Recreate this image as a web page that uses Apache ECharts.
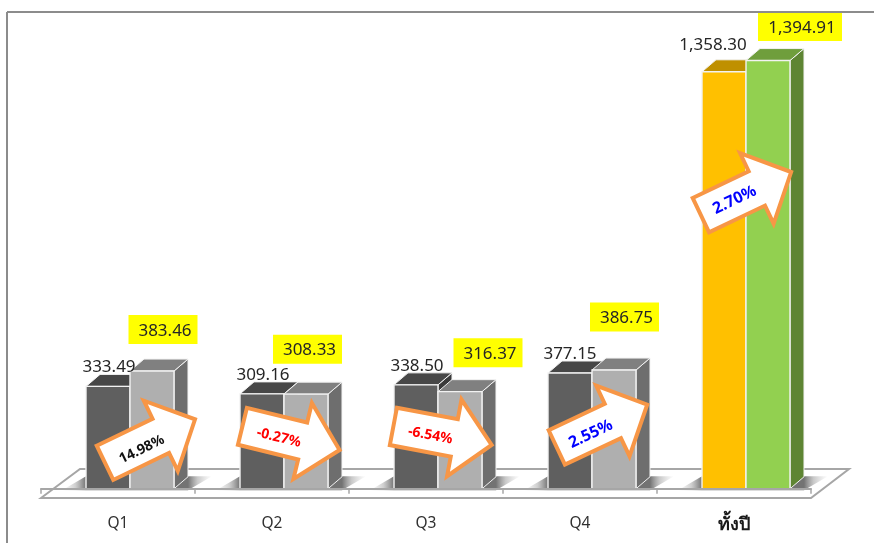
<!DOCTYPE html>
<html>
<head>
<meta charset="utf-8">
<style>html,body{margin:0;padding:0;background:#fff}#c{width:874px;height:543px}</style>
<script src="https://cdn.jsdelivr.net/npm/echarts@6/dist/echarts.min.js"></script>
</head>
<body>
<div id="c"></div>
<script>
var categories = ['Q1', 'Q2', 'Q3', 'Q4', 'ทั้งปี'];
var prevYear = [333.49, 309.16, 338.50, 377.15, 1358.30];
var currYear = [383.46, 308.33, 316.37, 386.75, 1394.91];
var changeLabels = ['14.98%', '-0.27%', '-6.54%', '2.55%', '2.70%'];

var FONT = '"Noto Sans", "Open Sans", sans-serif';
var DEPTH_X = 14, DEPTH_Y = -12;
var GREY_A = { front: '#5f5f5f', top: '#474747', side: '#3a3a3a' };
var GREY_B = { front: '#afafaf', top: '#808080', side: '#6e6e6e' };
var GOLD = { front: '#ffc000', top: '#bf9000', side: '#8f6c00' };
var GREEN = { front: '#92d050', top: '#6f9e3c', side: '#5e8533' };
var EDGE = '#f2f2f2';

function fmt(v) {
  return v.toLocaleString('en-US', { minimumFractionDigits: 2, maximumFractionDigits: 2 });
}

function barRender(slot, paletteFor) {
  return function (params, api) {
    var i = api.value(0), v = api.value(1);
    var w = api.size([1, 0])[0] * 0.2857;
    var c = api.coord([i, 0]);
    var top = api.coord([i, v])[1];
    var x0 = c[0] - 32 + slot * w, x1 = x0 + w, yb = c[1];
    var p = paletteFor(i);
    return {
      type: 'group',
      children: [
        { type: 'polygon', shape: { points: [[x1, yb], [x1 + DEPTH_X, yb + DEPTH_Y], [x1 + DEPTH_X, top + DEPTH_Y], [x1, top]] },
          style: { fill: p.side, stroke: EDGE, lineWidth: 1 } },
        { type: 'polygon', shape: { points: [[x0, top], [x0 + DEPTH_X, top + DEPTH_Y], [x1 + DEPTH_X, top + DEPTH_Y], [x1, top]] },
          style: { fill: p.top, stroke: EDGE, lineWidth: 1 } },
        { type: 'rect', shape: { x: x0, y: top, width: w, height: yb - top },
          style: { fill: p.front, stroke: EDGE, lineWidth: 1.4 } }
      ]
    };
  };
}

function shadowRender(params, api) {
  var i = api.value(0);
  var c = api.coord([i, 0]);
  var L = c[0] - 32, R = c[0] + 56 + DEPTH_X;
  var yb = c[1] + 1.5, yt = yb - 14;
  var l = L - 24, r = R + 24;
  var span = r - l;
  var a = (L - l) / span, b = (R - l) / span;
  return {
    type: 'polygon',
    shape: { points: [[l, yb], [l + 24, yt], [r, yt], [r - 24, yb]] },
    style: {
      fill: new echarts.graphic.LinearGradient(l, 0, r, 0, [
        { offset: 0, color: 'rgba(140,140,140,0)' },
        { offset: a * 0.55, color: 'rgba(120,120,120,0.35)' },
        { offset: a, color: 'rgba(80,80,80,0.8)' },
        { offset: b, color: 'rgba(80,80,80,0.8)' },
        { offset: b + (1 - b) * 0.4, color: 'rgba(120,120,120,0.4)' },
        { offset: 1, color: 'rgba(150,150,150,0)' }
      ], true)
    }
  };
}

function floorRender(params, api) {
  var g = params.coordSys;
  var x0 = g.x, x1 = g.x + g.width, y = g.y + g.height;
  return {
    type: 'polygon',
    shape: { points: [[x0, y], [x0 + 39, y - 29], [x1 + 38, y - 29], [x1, y]] },
    style: { fill: '#ffffff', stroke: '#a6a6a6', lineWidth: 2 }
  };
}

// arrow styling: centre offset from the category centre / current bar top, screen angle in degrees, font
var arrowStyle = [
  { dx: 32, dy: 70, deg: -25.8, color: '#111111', size: 14, tx: -11, ty: 4 },
  { dx: 19, dy: 44, deg: 13.7, color: '#ff0000', size: 14, tx: -12, ty: 2.5 },
  { dx: 16.5, dy: 44, deg: 10.7, color: '#ff0000', size: 14, tx: -12, ty: 2 },
  { dx: 22, dy: 56, deg: -25.3, color: '#0000ff', size: 16, tx: -13.5, ty: 2.5 },
  { dx: 12, dy: 133, deg: -25.5, color: '#0000ff', size: 16, tx: -13, ty: 1 }
];
var ARROW = [[-50, -19], [12, -19], [12, -39], [50, 0], [12, 39], [12, 19], [-50, 19]];

function arrowRender(params, api) {
  var i = api.value(0), v = api.value(1);
  var s = arrowStyle[i];
  var c = api.coord([i, v]);
  var cx = c[0] + s.dx, cy = c[1] + s.dy, a = s.deg * Math.PI / 180;
  var cos = Math.cos(a), sin = Math.sin(a);
  var pts = ARROW.map(function (p) {
    return [cx + p[0] * cos - p[1] * sin, cy + p[0] * sin + p[1] * cos];
  });
  return {
    type: 'group',
    children: [
      { type: 'polygon', shape: { points: pts },
        style: { fill: '#ffffff', stroke: '#f79646', lineWidth: 4, lineJoin: 'miter' } },
      { type: 'text', x: cx + s.tx * cos - s.ty * sin, y: cy + s.tx * sin + s.ty * cos, rotation: -a,
        style: { text: changeLabels[i], fill: s.color, align: 'center', verticalAlign: 'middle',
                 font: 'bold ' + s.size + 'px ' + FONT } }
    ]
  };
}

var prevOffset = [[1, -19], [1, -19], [1, -19], [0, -19], [-11, -27]];
var currOffset = [[11, -41.5], [1.5, -45], [28, -39], [10.5, -53], [32, -34]];

function labelRender(params, api) {
  var i = api.value(0), a = api.value(1), b = api.value(2);
  var w = api.size([1, 0])[0] * 0.2857;
  var base = api.coord([i, 0])[0];
  var ya = api.coord([i, a])[1], yb = api.coord([i, b])[1];
  var xa = base - 32 + w / 2 + prevOffset[i][0], tya = ya + prevOffset[i][1];
  var xb = base - 32 + w * 1.5 + currOffset[i][0], tyb = yb + currOffset[i][1];
  var boxW = i === 4 ? 84 : 69, boxH = 29;
  return {
    type: 'group',
    children: [
      { type: 'text', x: xa, y: tya,
        style: { text: fmt(a), fill: '#262626', align: 'center', verticalAlign: 'middle', font: '17px ' + FONT } },
      { type: 'rect', shape: { x: xb - boxW / 2, y: tyb - boxH / 2, width: boxW, height: boxH },
        style: { fill: '#ffff00' } },
      { type: 'text', x: xb + 2, y: tyb + 1.5,
        style: { text: fmt(b), fill: '#262626', align: 'center', verticalAlign: 'middle', font: '17px ' + FONT } }
    ]
  };
}

var idx = categories.map(function (_, i) { return i; });
function pairs(arr) { return arr.map(function (v, i) { return [i, v]; }); }

var chart = echarts.init(document.getElementById('c'), null, { renderer: 'canvas' });
chart.setOption({
  animation: false,
  backgroundColor: '#ffffff',
  graphic: [
    { type: 'line', silent: true, z: 100, shape: { x1: 7, y1: 12, x2: 874, y2: 12 }, style: { stroke: '#8c8c8c', lineWidth: 2 } },
    { type: 'line', silent: true, z: 100, shape: { x1: 7, y1: 12, x2: 7, y2: 543 }, style: { stroke: '#8c8c8c', lineWidth: 2 } }
  ],
  grid: { left: 41, width: 770, top: 28.3, height: 469.7 },
  xAxis: {
    type: 'category',
    data: categories,
    axisLine: { show: true, lineStyle: { color: '#a6a6a6', width: 2 } },
    axisTick: { show: true, length: 5, lineStyle: { color: '#a6a6a6', width: 1.5 } },
    axisLabel: {
      margin: 18, fontSize: 15.5, color: '#303030', fontFamily: FONT,
      formatter: function (v) { return v === categories[4] ? '{b|' + v + '}' : v; },
      rich: { b: { fontSize: 18, fontWeight: 'bold', color: '#1a1a1a', fontFamily: FONT } }
    },
    z: 5
  },
  yAxis: { type: 'value', min: -30, max: 1500, show: false, splitLine: { show: false } },
  series: [
    { type: 'custom', name: 'floor', silent: true, z: 1, renderItem: floorRender, data: [[0, 0]], clip: false },
    { type: 'custom', name: 'shadow', silent: true, z: 2, renderItem: shadowRender, data: pairs(currYear), clip: false },
    { type: 'custom', name: 'prev', silent: true, z: 3, data: pairs(prevYear), clip: false,
      renderItem: barRender(0, function (i) { return i === 4 ? GOLD : GREY_A; }) },
    { type: 'custom', name: 'curr', silent: true, z: 4, data: pairs(currYear), clip: false,
      renderItem: barRender(1, function (i) { return i === 4 ? GREEN : GREY_B; }) },
    { type: 'custom', name: 'change', silent: true, z: 6, data: pairs(currYear), clip: false, renderItem: arrowRender },
    { type: 'custom', name: 'labels', silent: true, z: 7, clip: false, renderItem: labelRender,
      data: idx.map(function (i) { return [i, prevYear[i], currYear[i]]; }) }
  ]
});
</script>
</body>
</html>
